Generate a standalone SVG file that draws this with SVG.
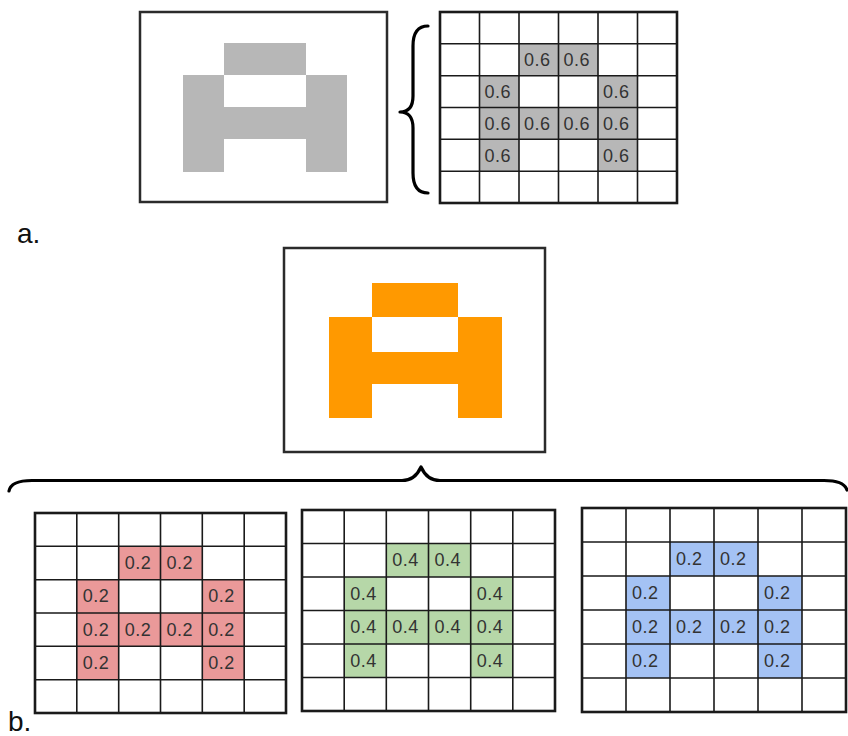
<svg xmlns="http://www.w3.org/2000/svg" width="848" height="736" viewBox="0 0 848 736">
<style>
.frame{fill:#fff;stroke:#2b2b2b;stroke-width:2.5}
.ln{stroke:#1a1a1a;stroke-width:1.6;fill:none}
.bd{fill:none;stroke:#1a1a1a;stroke-width:2.6}
.gy{fill:#b7b7b7}
.rd{fill:#ea9999}
.gn{fill:#b6d7a8}
.bl{fill:#a4c2f4}
.v{font-family:"Liberation Sans",Arial,sans-serif;font-size:18px;fill:#333;letter-spacing:0.5px}
.lab{font-family:"Liberation Sans",Arial,sans-serif;font-size:28px;fill:#111}
.brace{fill:none;stroke:#000;stroke-width:3.2;stroke-linecap:round;stroke-linejoin:round}
</style>
<rect width="848" height="736" fill="#fff"/>

<g id="image-gray">
<rect class="frame" x="140" y="12" width="247" height="190"/>
<path class="gy" d="M224,43H306V75H347V172H306V139H224V172H183V75H224Z M224,75V107H306V75Z" fill-rule="evenodd"/>
</g>

<g id="grid-gray">
<g class="gy">
<rect x="519" y="43.8" width="39.5" height="31.9"/><rect x="558.5" y="43.8" width="39.5" height="31.9"/>
<rect x="479.5" y="75.7" width="39.5" height="31.8"/><rect x="598" y="75.7" width="39.5" height="31.8"/>
<rect x="479.5" y="107.5" width="158" height="31.8"/>
<rect x="479.5" y="139.3" width="39.5" height="31.9"/><rect x="598" y="139.3" width="39.5" height="31.9"/>
</g>
<path class="ln" d="M479.5,12V203M519,12V203M558.5,12V203M598,12V203M637.5,12V203M440,43.8H677M440,75.7H677M440,107.5H677M440,139.3H677M440,171.2H677"/>
<rect class="bd" x="440" y="12" width="237" height="191"/>
<g class="v">
<text x="524" y="66">0.6</text><text x="563.5" y="66">0.6</text>
<text x="484.5" y="98">0.6</text><text x="603" y="98">0.6</text>
<text x="484.5" y="130">0.6</text><text x="524" y="130">0.6</text><text x="563.5" y="130">0.6</text><text x="603" y="130">0.6</text>
<text x="484.5" y="161.5">0.6</text><text x="603" y="161.5">0.6</text>
</g>
</g>

<text class="lab" x="17" y="243">a.</text>

<g id="image-orange">
<rect class="frame" x="284" y="248" width="261" height="204"/>
<path fill="#ff9900" d="M372,283H458V317H502V418H458V384H372V418H329V317H372Z M372,317V352H458V317Z" fill-rule="evenodd"/>
</g>

<g id="grid-red">
<g class="rd">
<rect x="118.7" y="546.3" width="41.8" height="33.4"/><rect x="160.5" y="546.3" width="41.8" height="33.4"/>
<rect x="76.8" y="579.7" width="41.9" height="33.3"/><rect x="202.3" y="579.7" width="41.9" height="33.3"/>
<rect x="76.8" y="613" width="167.4" height="33.3"/>
<rect x="76.8" y="646.3" width="41.9" height="33.4"/><rect x="202.3" y="646.3" width="41.9" height="33.4"/>
</g>
<path class="ln" d="M76.8,513V713M118.7,513V713M160.5,513V713M202.3,513V713M244.2,513V713M35,546.3H286M35,579.7H286M35,613H286M35,646.3H286M35,679.7H286"/>
<rect class="bd" x="35" y="513" width="251" height="200"/>
<g class="v">
<text x="124.7" y="569">0.2</text><text x="166.5" y="569">0.2</text>
<text x="82.8" y="602.4">0.2</text><text x="208.3" y="602.4">0.2</text>
<text x="82.8" y="635.7">0.2</text><text x="124.7" y="635.7">0.2</text><text x="166.5" y="635.7">0.2</text><text x="208.3" y="635.7">0.2</text>
<text x="82.8" y="669">0.2</text><text x="208.3" y="669">0.2</text>
</g>
</g>

<g id="grid-green">
<g class="gn">
<rect x="386.3" y="543.5" width="42.2" height="33.5"/><rect x="428.5" y="543.5" width="42.2" height="33.5"/>
<rect x="344.2" y="577" width="42.1" height="33.5"/><rect x="470.7" y="577" width="42.1" height="33.5"/>
<rect x="344.2" y="610.5" width="168.6" height="33.5"/>
<rect x="344.2" y="644" width="42.1" height="33.5"/><rect x="470.7" y="644" width="42.1" height="33.5"/>
</g>
<path class="ln" d="M344.2,510V711M386.3,510V711M428.5,510V711M470.7,510V711M512.8,510V711M302,543.5H555M302,577H555M302,610.5H555M302,644H555M302,677.5H555"/>
<rect class="bd" x="302" y="510" width="253" height="201"/>
<g class="v">
<text x="392.3" y="566.3">0.4</text><text x="434.5" y="566.3">0.4</text>
<text x="350.2" y="599.8">0.4</text><text x="476.7" y="599.8">0.4</text>
<text x="350.2" y="633.3">0.4</text><text x="392.3" y="633.3">0.4</text><text x="434.5" y="633.3">0.4</text><text x="476.7" y="633.3">0.4</text>
<text x="350.2" y="666.8">0.4</text><text x="476.7" y="666.8">0.4</text>
</g>
</g>

<g id="grid-blue">
<g class="bl">
<rect x="670" y="542" width="44" height="34"/><rect x="714" y="542" width="44" height="34"/>
<rect x="626" y="576" width="44" height="34"/><rect x="758" y="576" width="44" height="34"/>
<rect x="626" y="610" width="176" height="34"/>
<rect x="626" y="644" width="44" height="34"/><rect x="758" y="644" width="44" height="34"/>
</g>
<path class="ln" d="M626,508V712M670,508V712M714,508V712M758,508V712M802,508V712M582,542H846M582,576H846M582,610H846M582,644H846M582,678H846"/>
<rect class="bd" x="582" y="508" width="264" height="204"/>
<g class="v">
<text x="676" y="565">0.2</text><text x="720" y="565">0.2</text>
<text x="632" y="599">0.2</text><text x="764" y="599">0.2</text>
<text x="632" y="633">0.2</text><text x="676" y="633">0.2</text><text x="720" y="633">0.2</text><text x="764" y="633">0.2</text>
<text x="632" y="667">0.2</text><text x="764" y="667">0.2</text>
</g>
</g>

<text class="lab" x="8" y="731">b.</text>

<g id="connectors">
<path class="brace" d="M428,26Q413,26 413,46L413,96Q413,112 400,112Q413,112 413,128L413,173Q413,193 428,193"/>
<path class="brace" d="M9,491Q11,480.5 32,480.5L402,480.5Q415,480.5 421,467Q427,480.5 440,480.5L824,480.5Q844,480.5 847,490"/>
</g>
</svg>
